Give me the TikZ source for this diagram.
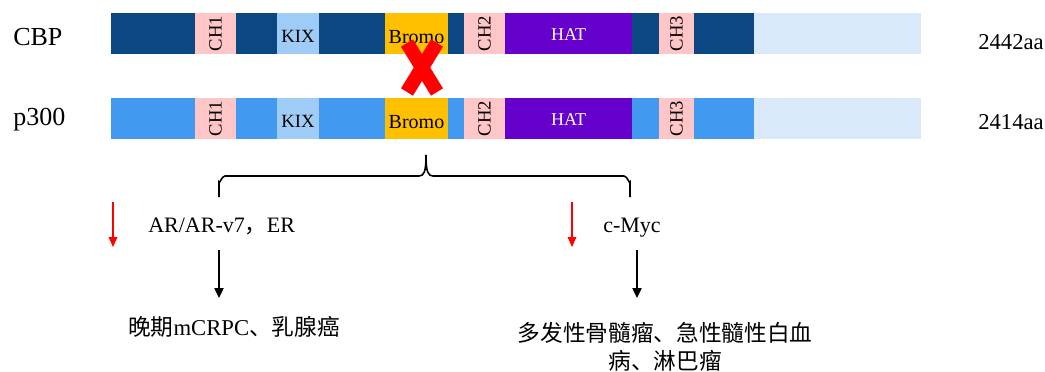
\documentclass[tikz,border=0pt]{standalone}
\usepackage{fontspec}
\setmainfont{Liberation Serif}
\newfontfamily\cjk{Noto Sans CJK SC}
\usepackage{tikz}
\usetikzlibrary{positioning,fit,arrows.meta}
\definecolor{cbpblue}{RGB}{11,71,131}
\definecolor{pblue}{RGB}{65,154,240}
\definecolor{tailblue}{RGB}{217,233,250}
\definecolor{kixblue}{RGB}{159,203,247}
\definecolor{chpink}{RGB}{255,198,200}
\definecolor{bromoyel}{RGB}{255,192,0}
\definecolor{hatviolet}{RGB}{102,0,204}

\begin{document}
\begin{tikzpicture}[x=0.75pt,y=-0.75pt,
		  every node/.style={inner sep=0pt},
		  bg/.style={fill=rowbase},
		  ch/.style={fill=chpink},
		  kix/.style={fill=kixblue},
		  bromo/.style={fill=bromoyel},
		  hat/.style={fill=hatviolet},
		  tail/.style={fill=tailblue},
		  bg txt/.style={},
		  ch txt/.style={rotate=90,font=\fontsize{14}{14}\selectfont},
		  kix txt/.style={yshift=-2pt,font=\fontsize{14}{14}\selectfont},
		  bromo txt/.style={yshift=-2.5pt,font=\fontsize{15}{15}\selectfont},
		  hat txt/.style={yshift=-1pt,text=white,font=\fontsize{13.5}{13.5}\selectfont},
		  tail txt/.style={},
		  protname/.style={anchor=base west,font=\fontsize{19.5}{20}\selectfont},
		  aalen/.style={anchor=base west,font=\fontsize{17}{17}\selectfont},
		  target/.style={anchor=base west,font=\fontsize{16.5}{17}\selectfont},
		  disease/.style={font=\fontsize{17}{21}\selectfont,align=center},
		  down/.style={-{Triangle[length=7.5pt,width=7pt]},line width=1pt},
		  redarrow/.style={red,-{Triangle[length=7.5pt,width=6.5pt]},line width=0.9pt}
		]

			\useasboundingbox (0,0) rectangle (1045,371);

			% the two domain bars
			\foreach \row/\top/\base in {cbp/13/cbpblue, ptre/98/pblue}{
			  \colorlet{rowbase}{\base}
			  \foreach \a/\b/\s/\t [count=\i] in {111/195/bg/{},195/236/ch/CH1,236/277/bg/{},
			      277/319/kix/KIX,319/385/bg/{},385/448/bromo/Bromo,448/464/bg/{},
			      464/505/ch/CH2,505/632/hat/HAT,632/659/bg/{},659/694/ch/CH3,
			      694/754/bg/{},754/921/tail/{}}
			    \node[\s,fit={(\a,\top) (\b,\top+41)},label={[\s\space txt]center:\t}] (\row-\i) {};
			}

			% names and lengths
			\node[protname] (cbp) at (13,45) {CBP};
			\node[protname] (ptre) at (13,125) {p300};
			\node[aalen] (cbplen) at (978,49) {2442aa};
			\node[aalen] (ptrelen) at (978,129) {2414aa};

			% the bromodomain is blocked
			\draw[red,line width=10.5pt] (407,43) -- (437,92);
			\draw[red,line width=10.5pt] (437,43) -- (407,92);

			% targets and diseases
			\node[target] (ar) at (148,232) {AR/AR-v7{\cjk ，}ER};
			\node[target] (myc) at (603,232) {c-Myc};
			\node[disease,anchor=base west] (crpc) at (128,335) {{\cjk 晚期}mCRPC{\cjk 、乳腺癌}};
			\node[disease] (myel) at (665,347) {\cjk 多发性骨髓瘤、急性髓性白血\\\cjk 病、淋巴瘤};

			% the brace
			\coordinate (brL) at (219,197);
			\coordinate (brR) at (630,197);
			\coordinate (brtip) at (426,155);
			\draw[line width=1.2pt] (brL) -- (219,182) to[out=-90,in=180] (225,176) -- (419,176)
			  .. controls (424,176) and (426,172) .. (brtip)
			  .. controls (426,172) and (428,176) .. (433,176) -- (624,176)
			  to[out=0,in=-90] (630,182) -- (brR);

			% the arrows
			\coordinate (arA) at (219,250);
			\coordinate (arB) at (219,298);
			\coordinate (mycA) at (637,250);
			\coordinate (mycB) at (637,298);
			\draw[down] (arA) -- (arB);
			\draw[down] (mycA) -- (mycB);
			\coordinate (redA) at (113,202);
			\coordinate (redB) at (113,247);
			\coordinate (redC) at (572,202);
			\coordinate (redD) at (572,247);
			\draw[redarrow] (redA) -- (redB);
			\draw[redarrow] (redC) -- (redD);

		\end{tikzpicture}
\end{document}
